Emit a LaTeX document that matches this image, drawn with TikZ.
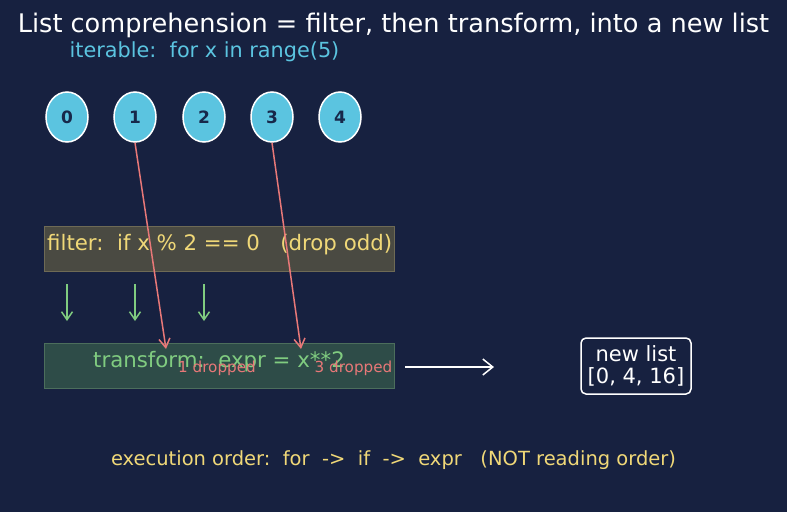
\documentclass[tikz,border=0pt]{standalone}
\usepackage{fontspec}
\setmainfont{DejaVu Sans}
\usetikzlibrary{arrows.meta, positioning, calc, shapes.geometric}
\definecolor{lcbg}{HTML}{172140}
\definecolor{lccyan}{HTML}{5BC4E0}
\definecolor{lcnavy}{HTML}{17284A}
\definecolor{lcyellow}{HTML}{F0D878}
\definecolor{lcgreen}{HTML}{80CC80}
\definecolor{lcred}{HTML}{E87878}
\definecolor{lcfilterbg}{HTML}{4A4A42}
\definecolor{lcfilterln}{HTML}{6E6A55}
\definecolor{lctransbg}{HTML}{2E4C48}
\definecolor{lctransln}{HTML}{4C6E5C}

\tikzset{
    item/.style={ellipse, draw=white, line width=1.5pt, fill=lccyan, minimum width=42pt,
        minimum height=50pt, inner sep=0pt, text=lcnavy, font=\bfseries\fontsize{17}{20}\selectfont},
    stagebox/.style={rectangle, line width=1pt, minimum width=350pt, minimum height=45pt, inner sep=0pt},
    keep/.style={->, >={Straight Barb[length=8pt,width=11pt]}, lcgreen, line width=1.5pt},
    drop/.style={->, >={Straight Barb[length=9pt,width=11pt]}, lcred, line width=1.5pt},
}

\begin{document}
\begin{tikzpicture}[x=1pt, y=-1pt]
\useasboundingbox[fill=lcbg] (0,0) rectangle (787,512);

% === titulo ===
\node[text=white, font=\fontsize{25.6}{30}\selectfont] (title) at (393.5,25)
    {List comprehension = filter, then transform, into a new list};
\node[text=lccyan, font=\fontsize{20.8}{24}\selectfont] (iter) at (204.5,52)
    {iterable:\ \ for x in range(5)};

% === elementos ===
\foreach \v/\xx in {0/67, 1/135, 2/204, 3/272, 4/340}
    \node[item] (x\v) at (\xx,117) {\v};

% === etapas ===
\node[stagebox, fill=lcfilterbg, draw=lcfilterln] (filter) at (219,248.5) {};
\node[anchor=base west, inner sep=0pt, text=lcyellow, font=\fontsize{21.3}{25}\selectfont] (filtertxt) at (47,250)
    {filter:\ \ if x \% 2 == 0\ \ \ (drop odd)};

\node[stagebox, fill=lctransbg, draw=lctransln] (transform) at (219,366) {};
\node[anchor=base, inner sep=0pt, text=lcgreen, font=\fontsize{21.3}{25}\selectfont] (transtxt) at (219,367)
    {transform:\ \ expr = x**2};

% pasan el filtro
\foreach \xx in {67, 135, 204} {
    \coordinate (k\xx a) at (\xx,284);
    \coordinate (k\xx b) at (\xx,321);
    \draw[keep] (k\xx a) -- (k\xx b);
}

% descartados
\coordinate (d1) at (166,349);
\coordinate (d3) at (301,349);
\draw[drop] (x1.south) -- (d1);
\draw[drop] (x3.south) -- (d3);
\node[anchor=base, inner sep=0pt, text=lcred, font=\fontsize{15.2}{18}\selectfont] (drop1) at (217,372) {1 dropped};
\node[anchor=base, inner sep=0pt, text=lcred, font=\fontsize{15.2}{18}\selectfont] (drop3) at (353.5,372) {3 dropped};

% === resultado ===
\node[draw=white, line width=1.5pt, rounded corners=5pt, align=center, text=white,
    minimum width=110pt, minimum height=56pt, inner sep=2pt,
    font=\fontsize{21}{22}\selectfont] (result) at (636,366) {new list\\{[0, 4, 16]}};
\coordinate (out) at (405,367);
\draw[->, >={Straight Barb[length=10pt,width=16pt]}, white, line width=1.5pt] (out) -- ++(89,0) coordinate (outend);

% === nota ===
\node[text=lcyellow, font=\fontsize{19.5}{23}\selectfont] (order) at (393.5,460)
    {execution order:\ \ for\ \ ->\ \ if\ \ ->\ \ expr\ \ \ (NOT reading order)};

\end{tikzpicture}
\end{document}
